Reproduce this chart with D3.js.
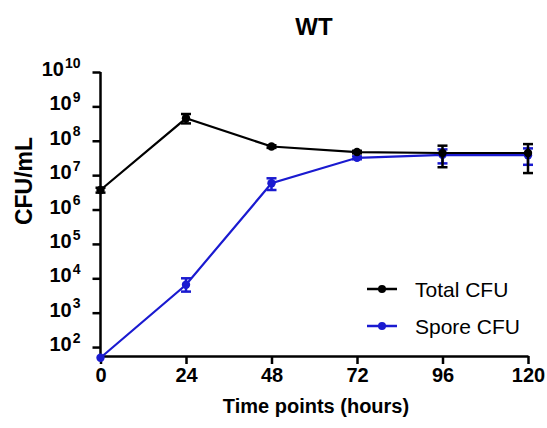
<!DOCTYPE html>
<html>
<head>
<meta charset="utf-8">
<script src="https://cdn.jsdelivr.net/npm/d3@7"></script>
<style>
  body { margin: 0; background: #fff; }
  svg { font-family: "Liberation Sans", Arial, sans-serif; }
</style>
</head>
<body>
<script>
const hours = [0, 24, 48, 72, 96, 120]
const xTicks = [0, 24, 48, 72, 96, 120]
const yTickExps = [2, 3, 4, 5, 6, 7, 8, 9, 10]

// Total CFU: mean, upper and lower error bounds
const totalMean = [3.7e6, 4.5e8, 6.8e7, 4.7e7, 4.4e7, 4.4e7]
const totalHigh = [4.3e6, 6.0e8, 7.4e7, 5.1e7, 7.2e7, 8.0e7]
const totalLow = [3.1e6, 3.2e8, 6.2e7, 4.3e7, 1.7e7, 1.15e7]

// Spore CFU
const sporeMean = [49, 6.5e3, 5.8e6, 3.2e7, 3.9e7, 3.8e7]
const sporeHigh = [49, 1.0e4, 8.1e6, 3.5e7, 5.6e7, 6.0e7]
const sporeLow = [49, 4.1e3, 3.7e6, 2.9e7, 2.2e7, 2.0e7]

const series = [
  {name: "Spore CFU", color: "#1a1ad0", mean: sporeMean, high: sporeHigh, low: sporeLow},
  {name: "Total CFU", color: "#000000", mean: totalMean, high: totalHigh, low: totalLow}
]
const legendOrder = ["Total CFU", "Spore CFU"]

const width = 547
const height = 428
const plotLeft = 100.5, plotRight = 528, plotTop = 72, plotBottom = 356

const svg = d3.select("body").append("svg")
  .attr("width", width)
  .attr("height", height)

const x = d3.scaleLinear().domain([0, 120]).range([plotLeft, plotRight])
const y = d3.scaleLog().domain([Math.pow(10, 1.74), 1e10]).range([plotBottom, plotTop])

// title
svg.append("text")
  .attr("x", 314).attr("y", 35)
  .attr("text-anchor", "middle")
  .attr("font-size", "24px").attr("font-weight", "bold")
  .text("WT")

// x axis
const xAxis = svg.append("g")
  .attr("transform", `translate(0,${plotBottom})`)
  .call(d3.axisBottom(x).tickValues(xTicks).tickSize(8).tickSizeOuter(0).tickPadding(4))
xAxis.select(".domain").attr("stroke-width", 2.5)
xAxis.selectAll(".tick line").attr("stroke-width", 2.5)
xAxis.selectAll(".tick text")
  .attr("font-size", "20px").attr("font-weight", "bold")
  .attr("font-family", "Liberation Sans, Arial, sans-serif")
  .attr("fill", "#000")

// y axis
const yAxis = svg.append("g")
  .attr("transform", `translate(${plotLeft},0)`)
  .call(d3.axisLeft(y).tickValues(yTickExps.map(e => Math.pow(10, e)))
    .tickSize(8).tickSizeOuter(0).tickPadding(12).tickFormat(""))
yAxis.select(".domain").attr("stroke-width", 2.5)
  .attr("d", `M0,${plotBottom}V${plotTop}`)
yAxis.selectAll(".tick line").attr("stroke-width", 2.5)
yAxis.selectAll(".tick text")
  .attr("font-family", "Liberation Sans, Arial, sans-serif")
  .attr("font-weight", "bold").attr("fill", "#000")
  .attr("dy", "0.35em")
  .each(function (d) {
    const t = d3.select(this)
    t.append("tspan").attr("font-size", "20px").text("10")
    t.append("tspan").attr("font-size", "14px").attr("dy", "-0.6em").attr("dx", "1")
      .text(Math.round(Math.log10(d)))
  })

// axis titles
svg.append("text")
  .attr("x", 316).attr("y", 413)
  .attr("text-anchor", "middle")
  .attr("font-size", "20px").attr("font-weight", "bold")
  .text("Time points (hours)")

svg.append("text")
  .attr("transform", "translate(32,181) rotate(-90)")
  .attr("text-anchor", "middle")
  .attr("font-size", "23px").attr("font-weight", "bold")
  .text("CFU/mL")

// series
const line = d3.line()
  .x(function (d) { return x(d.h) })
  .y(function (d) { return y(d.m) })

series.forEach(function (s) {
  const pts = hours.map(function (h, i) {
    return {h: h, m: s.mean[i], hi: s.high[i], lo: s.low[i]}
  })
  const g = svg.append("g").attr("class", "series")

  g.append("path")
    .datum(pts)
    .attr("fill", "none")
    .attr("stroke", s.color)
    .attr("stroke-width", 2.2)
    .attr("d", line)

  const eb = g.selectAll(".err").data(pts.filter(function (p) { return p.hi !== p.lo }))
    .enter().append("g").attr("class", "err")
    .attr("stroke", s.color).attr("stroke-width", 2.5)
  eb.append("line")
    .attr("x1", function (d) { return x(d.h) }).attr("x2", function (d) { return x(d.h) })
    .attr("y1", function (d) { return y(d.hi) }).attr("y2", function (d) { return y(d.lo) })
  eb.append("line")
    .attr("x1", function (d) { return x(d.h) - 5 }).attr("x2", function (d) { return x(d.h) + 5 })
    .attr("y1", function (d) { return y(d.hi) }).attr("y2", function (d) { return y(d.hi) })
  eb.append("line")
    .attr("x1", function (d) { return x(d.h) - 5 }).attr("x2", function (d) { return x(d.h) + 5 })
    .attr("y1", function (d) { return y(d.lo) }).attr("y2", function (d) { return y(d.lo) })

  g.selectAll("circle").data(pts)
    .enter().append("circle")
    .attr("cx", function (d) { return x(d.h) })
    .attr("cy", function (d) { return y(d.m) })
    .attr("r", 4.2)
    .attr("fill", s.color)
})

// legend
const legend = svg.append("g")
  .selectAll("g")
  .data(legendOrder.map(function (n) { return series.find(function (s) { return s.name === n }) }))
  .enter().append("g")
  .attr("transform", function (d, i) { return `translate(367,${289 + i * 37})` })

legend.append("line")
  .attr("x1", 0).attr("x2", 30)
  .attr("stroke", function (d) { return d.color })
  .attr("stroke-width", 2.5)
legend.append("circle")
  .attr("cx", 15).attr("r", 4)
  .attr("fill", function (d) { return d.color })
legend.append("text")
  .attr("x", 48).attr("dy", "0.36em")
  .attr("font-size", "21px")
  .text(function (d) { return d.name })
</script>
</body>
</html>
